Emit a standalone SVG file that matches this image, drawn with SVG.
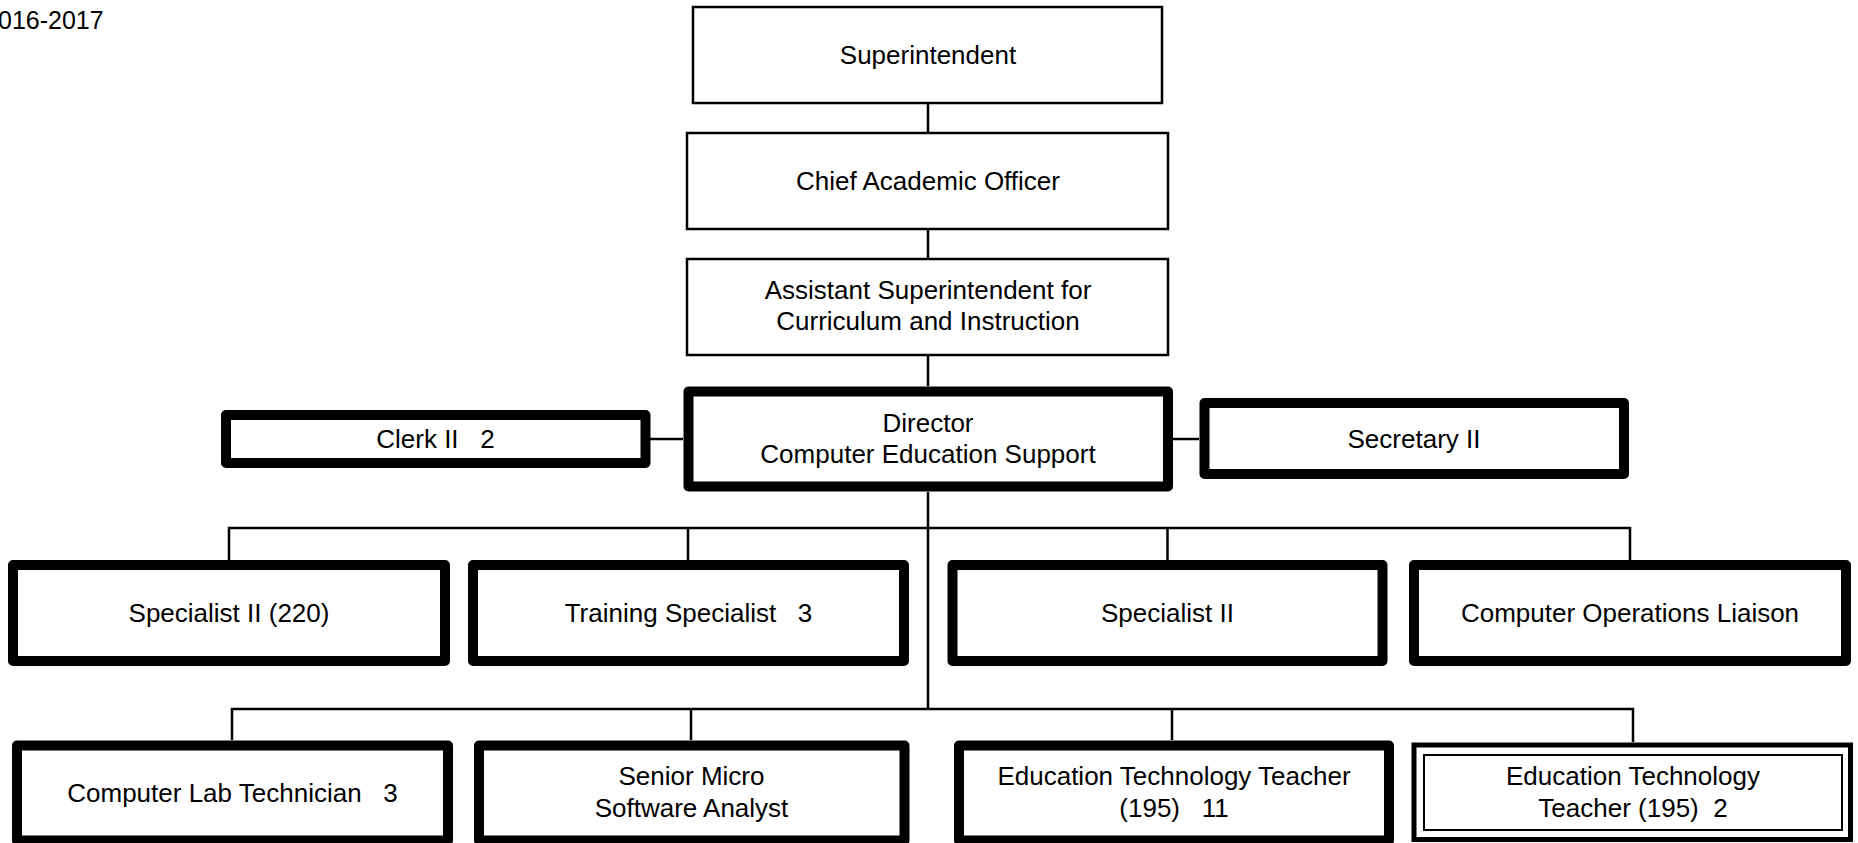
<svg xmlns="http://www.w3.org/2000/svg" width="1858" height="843" viewBox="0 0 1858 843">
<style>
  text { font-family: "Liberation Sans", Arial, sans-serif; font-size: 26px; fill: #000; text-anchor: middle; white-space: pre; }
  .thin { fill: #fff; stroke: #000; stroke-width: 2.5; }
  .thick { fill: #fff; stroke: #000; stroke-width: 10; stroke-linejoin: round; }
  .dbl-out { fill: #fff; stroke: #000; stroke-width: 5; }
  .dbl-in { fill: none; stroke: #000; stroke-width: 2; }
  .conn { fill: none; stroke: #000; stroke-width: 2.5; }
  .title { text-anchor: start; font-size: 25px; }
</style>
<rect width="1858" height="843" fill="#fff"/>
<text class="title" x="-2" y="29">016-2017</text>
<g id="connectors">
  <path class="conn" d="M928 103V133M928 229V259M928 355V386M928 492V709"/>
  <path class="conn" d="M650 439H683M1173 439H1199"/>
  <path class="conn" d="M229 560V528H1630V560M688 528V560M1167.5 528V560"/>
  <path class="conn" d="M232 740V709H1633V742M691 709V740M1172 709V740"/>
</g>
<g id="superintendent">
  <rect class="thin" x="693" y="7" width="469" height="96"/>
  <text x="928" y="64">Superintendent</text>
</g>
<g id="chief-academic-officer">
  <rect class="thin" x="687" y="133" width="481" height="96"/>
  <text x="928" y="190">Chief Academic Officer</text>
</g>
<g id="assistant-superintendent">
  <rect class="thin" x="687" y="259" width="481" height="96"/>
  <text x="928" y="299">Assistant Superintendent for</text>
  <text x="928" y="330">Curriculum and Instruction</text>
</g>
<g id="director">
  <rect class="thick" x="688.5" y="391.5" width="479.5" height="95" stroke-width="11"/>
  <text x="928" y="432">Director</text>
  <text x="928" y="463">Computer Education Support</text>
</g>
<g id="clerk">
  <rect class="thick" x="226" y="415" width="419.5" height="48"/>
  <text x="435.5" y="448">Clerk II   2</text>
</g>
<g id="secretary">
  <rect class="thick" x="1204.5" y="403" width="419.5" height="71"/>
  <text x="1414" y="448">Secretary II</text>
</g>
<g id="specialist-220">
  <rect class="thick" x="13" y="565" width="432" height="96"/>
  <text x="229" y="622">Specialist II (220)</text>
</g>
<g id="training-specialist">
  <rect class="thick" x="473" y="565" width="431" height="96"/>
  <text x="688.5" y="622">Training Specialist   3</text>
</g>
<g id="specialist-ii">
  <rect class="thick" x="952.5" y="565" width="430" height="96"/>
  <text x="1167.5" y="622">Specialist II</text>
</g>
<g id="computer-operations-liaison">
  <rect class="thick" x="1414" y="565" width="432" height="96"/>
  <text x="1630" y="622">Computer Operations Liaison</text>
</g>
<g id="computer-lab-technician">
  <rect class="thick" x="17" y="745.5" width="431" height="95" stroke-width="11"/>
  <text x="232.5" y="802">Computer Lab Technician   3</text>
</g>
<g id="senior-micro-software-analyst">
  <rect class="thick" x="479" y="745.5" width="425.5" height="95" stroke-width="11"/>
  <text x="691.5" y="785">Senior Micro</text>
  <text x="691.5" y="817">Software Analyst</text>
</g>
<g id="education-technology-teacher-11">
  <rect class="thick" x="959" y="745.5" width="430" height="95" stroke-width="11"/>
  <text x="1174" y="785">Education Technology Teacher</text>
  <text x="1174" y="817">(195)   11</text>
</g>
<g id="education-technology-teacher-2">
  <rect class="dbl-out" x="1414" y="745" width="436.5" height="94.5"/>
  <rect class="dbl-in" x="1424" y="755" width="418" height="75"/>
  <text x="1633" y="785">Education Technology</text>
  <text x="1633" y="817">Teacher (195)  2</text>
</g>
</svg>
